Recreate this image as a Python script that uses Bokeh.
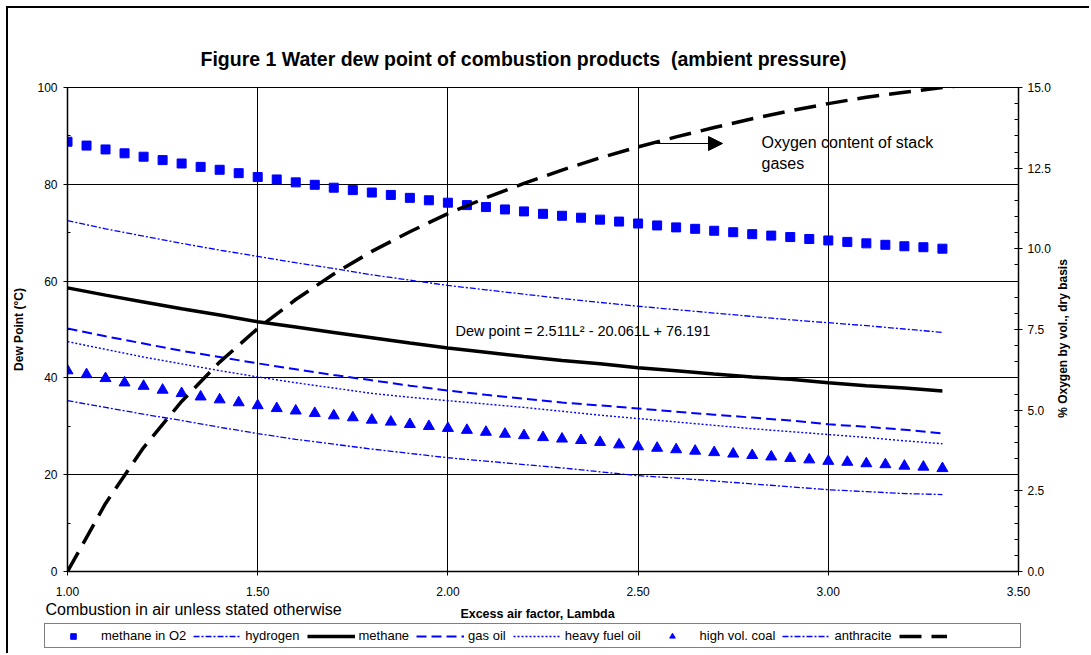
import math
from bokeh.plotting import figure
from bokeh.models import (Range1d, LinearAxis, SingleIntervalTicker,
                          NumeralTickFormatter, Legend, LegendItem, Label, Arrow, NormalHead)
from bokeh.embed import file_html
from bokeh.resources import INLINE

# ---------------- data ----------------
lam_pts = [round(1.0 + 0.05 * i, 2) for i in range(47)]          # 1.00 .. 3.30
lam_lines = [round(1.0 + 0.1 * i, 1) for i in range(24)]         # 1.0 .. 3.3
lam_o2 = [round(1.0 + 0.1 * i, 1) for i in range(25)]            # 1.0 .. 3.4

methane_o2 = [88.8, 88.0, 87.2, 86.4, 85.7, 85.0, 84.3, 83.6, 83.0, 82.3,
              81.5, 81.0, 80.4, 79.9, 79.3, 78.8, 78.3, 77.8, 77.2, 76.7,
              76.2, 75.7, 75.3, 74.8, 74.4, 73.9, 73.5, 73.1, 72.7, 72.3,
              71.9, 71.5, 71.1, 70.8, 70.4, 70.1, 69.7, 69.4, 69.1, 68.7,
              68.4, 68.1, 67.8, 67.5, 67.2, 67.0, 66.7]

high_vol_coal = [41.5, 40.7, 39.9, 39.0, 38.3, 37.5, 36.8, 36.1, 35.5, 34.9,
                 34.3, 33.7, 33.2, 32.7, 32.2, 31.8, 31.3, 30.9, 30.4, 30.0,
                 29.6, 29.2, 28.8, 28.4, 28.1, 27.7, 27.4, 27.1, 26.7, 26.2,
                 25.8, 25.5, 25.2, 24.9, 24.6, 24.3, 24.0, 23.7, 23.4, 23.1,
                 22.8, 22.6, 22.3, 22.1, 21.8, 21.6, 21.3]

hydrogen = [72.5, 70.8, 69.3, 67.8, 66.4, 65.1, 63.8, 62.6, 61.3, 60.2,
            59.1, 58.2, 57.3, 56.4, 55.6, 54.8, 54.1, 53.4, 52.7, 52.0,
            51.4, 50.8, 50.1, 49.4]

methane = [58.6, 57.1, 55.7, 54.3, 53.0, 51.6, 50.5, 49.4, 48.3, 47.2,
           46.2, 45.3, 44.4, 43.6, 42.9, 42.1, 41.5, 40.8, 40.2, 39.7,
           39.0, 38.4, 37.9, 37.3]

gas_oil = [50.2, 48.6, 47.1, 45.6, 44.3, 43.0, 41.8, 40.6, 39.5, 38.4,
           37.4, 36.5, 35.7, 34.9, 34.3, 33.7, 33.0, 32.4, 31.8, 31.2,
           30.4, 29.9, 29.3, 28.5]

heavy_fuel_oil = [47.5, 45.9, 44.3, 42.9, 41.5, 40.2, 39.0, 37.9, 36.8, 36.0,
                  35.3, 34.6, 33.9, 33.1, 32.3, 31.6, 30.9, 30.2, 29.5, 28.9,
                  28.3, 27.7, 27.0, 26.4]

anthracite = [35.3, 33.9, 32.5, 31.2, 29.8, 28.5, 27.3, 26.3, 25.3, 24.4,
              23.5, 22.8, 22.1, 21.4, 20.6, 19.8, 19.3, 18.7, 18.1, 17.5,
              16.9, 16.5, 16.1, 15.9]

oxygen = [0.0, 2.11, 3.84, 5.27, 6.49, 7.53, 8.43, 9.22, 9.92, 10.53,
          11.09, 11.58, 12.03, 12.44, 12.82, 13.16, 13.47, 13.76, 14.03, 14.28,
          14.5, 14.7, 14.85, 15.0, 15.12]

title_text = "Figure 1 Water dew point of combustion products \u00a0(ambient pressure)"
x_label = "Excess air factor, Lambda"
y_label = "Dew Point (°C)"
y2_label = "% Oxygen by vol., dry basis"
note_text = "Combustion in air unless stated otherwise"
eq_text = "Dew point = 2.511L² - 20.061L + 76.191"
o2_text1 = "Oxygen content of stack"
o2_text2 = "gases"
legend_labels = ["methane in O2", "hydrogen", "methane", "gas oil", "heavy fuel oil",
                 "high vol. coal", "anthracite", "\u00a0" * 18]

# ---------------- styles ----------------
FONT = "Liberation Sans"
BLUE = "#0000FF"
X0, Y0 = 8, 8                        # page position of the content
PAGE_W, PAGE_H = 1091, 655
SPLIT = 601                          # page y where main figure ends
FL, FT, FR, FB = 67, 87, 1018, 571   # frame edges in page pixels
W = PAGE_W - X0

sq_style = dict(marker="square", size=9, color=BLUE)
tri_style = dict(marker="triangle", size=11, color=BLUE)
h2_style = dict(line_color=BLUE, line_width=1.3, line_dash="6 2 2 2")
ch4_style = dict(line_color="black", line_width=3.5)
go_style = dict(line_color=BLUE, line_width=2, line_dash="10 5")
hfo_style = dict(line_color=BLUE, line_width=1.4, line_dash="2 2")
an_style = dict(line_color=BLUE, line_width=1.3, line_dash="6 2 2 2")
ox_style = dict(line_color="black", line_width=3.5, line_dash="22 10")

# ---------------- main figure ----------------
p = figure(width=W, height=SPLIT - Y0, output_backend="svg", toolbar_location=None,
           x_range=Range1d(1.0, 3.5), y_range=Range1d(0, 100),
           min_border_left=FL - X0, min_border_top=FT - Y0,
           min_border_right=PAGE_W - FR, min_border_bottom=SPLIT - FB,
           styles={"margin-left": "6px", "margin-top": "6px",
                   "border-left": "2px solid black", "border-top": "2px solid black"})
p.extra_y_ranges = {"o2": Range1d(0, 15)}
p.background_fill_color = "white"
p.border_fill_color = "white"
p.outline_line_color = "black"
p.outline_line_width = 1

p.title.text = title_text
p.title.text_font = FONT
p.title.text_font_size = "19.5px"
p.title.text_font_style = "bold"
p.title.text_color = "black"
p.title.align = "left"
p.title.offset = 200 - FL
p.title.standoff = 35

p.xaxis.ticker = SingleIntervalTicker(interval=0.5, num_minor_ticks=0)
p.xaxis.formatter = NumeralTickFormatter(format="0.00")
p.yaxis.ticker = SingleIntervalTicker(interval=20, num_minor_ticks=2)
p.yaxis.formatter = NumeralTickFormatter(format="0")

for ax in (p.xaxis[0], p.yaxis[0]):
    ax.axis_line_color = "black"
    ax.axis_line_width = 1.5
    ax.major_tick_line_color = "black"
    ax.minor_tick_line_color = "black"
    ax.major_tick_in = 0
    ax.major_tick_out = 4
    ax.major_label_text_font = FONT
    ax.major_label_text_font_size = "12px"
    ax.major_label_text_color = "black"
    ax.axis_label_text_font = FONT
    ax.axis_label_text_font_size = "12px"
    ax.axis_label_text_font_style = "bold"
    ax.axis_label_text_color = "black"

p.xaxis.minor_tick_line_color = None
p.xaxis.major_label_standoff = 11
p.yaxis.minor_tick_in = 3
p.yaxis.minor_tick_out = 0
p.yaxis.major_label_standoff = 6
p.yaxis.axis_label = y_label
p.yaxis.axis_label_standoff = 8

# right axis: ticks and tick labels
ax2 = LinearAxis(y_range_name="o2", ticker=SingleIntervalTicker(interval=2.5, num_minor_ticks=5),
                 formatter=NumeralTickFormatter(format="0.0"))
ax2.axis_line_color = "black"
ax2.axis_line_width = 1.5
ax2.major_tick_line_color = "black"
ax2.minor_tick_line_color = "black"
ax2.major_tick_in = 4
ax2.major_tick_out = 4
ax2.minor_tick_in = 4
ax2.minor_tick_out = 0
ax2.major_label_standoff = 5
ax2.major_label_text_font = FONT
ax2.major_label_text_font_size = "12px"
ax2.major_label_text_color = "black"
p.add_layout(ax2, "right")

p.xgrid.ticker = SingleIntervalTicker(interval=0.5)
p.ygrid.ticker = SingleIntervalTicker(interval=20)
for g in (p.xgrid[0], p.ygrid[0]):
    g.grid_line_color = "black"
    g.grid_line_width = 1
    g.grid_line_alpha = 1.0

p.scatter(lam_pts, methane_o2, **sq_style)
p.line(lam_lines, hydrogen, **h2_style)
p.line(lam_lines, methane, **ch4_style)
p.line(lam_lines, gas_oil, **go_style)
p.line(lam_lines, heavy_fuel_oil, **hfo_style)
p.scatter(lam_pts, high_vol_coal, **tri_style)
p.line(lam_lines, anthracite, **an_style)
p.line(lam_o2, oxygen, y_range_name="o2", **ox_style)


def frame_label(txt, x, y, size, bold=False):
    p.add_layout(Label(x=x - FL, y=FB - y, x_units="screen", y_units="screen", text=txt,
                       text_font=FONT, text_font_size=size, text_align="left",
                       text_baseline="middle", text_color="black",
                       text_font_style="bold" if bold else "normal"))


frame_label(eq_text, 455, 330, "14.5px")
frame_label(o2_text1, 761, 142, "16px")
frame_label(o2_text2, 761, 163, "16px")
p.add_layout(Arrow(x_start=653 - FL, y_start=FB - 143, x_end=722 - FL, y_end=FB - 143,
                   start_units="screen", end_units="screen", line_color="black", line_width=1,
                   end=NormalHead(size=14, fill_color="black", line_color="black")))

# ---------------- bottom strip (notes + legend) ----------------
pb = figure(width=W, height=PAGE_H - SPLIT, output_backend="svg", toolbar_location=None,
            x_range=Range1d(X0, PAGE_W), y_range=Range1d(PAGE_H, SPLIT),
            x_axis_location=None, y_axis_location=None, min_border=0,
            styles={"margin-left": "6px", "border-left": "2px solid black"})
pb.outline_line_color = None
pb.background_fill_color = "white"
pb.border_fill_color = "white"
pb.xgrid.visible = False
pb.ygrid.visible = False

pb.add_layout(Label(x=45, y=611, text=note_text, text_font=FONT, text_font_size="16px",
                    text_baseline="middle", text_color="black"))
pb.add_layout(Label(x=537, y=615.5, text=x_label, text_font=FONT, text_font_size="12.5px",
                    text_font_style="bold", text_align="center", text_baseline="middle",
                    text_color="black"))

rb = [
    pb.scatter([0], [0], **sq_style),
    pb.line([0, 1], [0, 0], **h2_style),
    pb.line([0, 1], [0, 0], **ch4_style),
    pb.line([0, 1], [0, 0], **go_style),
    pb.line([0, 1], [0, 0], **hfo_style),
    pb.scatter([0], [0], **tri_style),
    pb.line([0, 1], [0, 0], **an_style),
    pb.line([0, 1], [0, 0], **ox_style),
]
legend = Legend(items=[LegendItem(label=l, renderers=[r]) for l, r in zip(legend_labels, rb)],
                orientation="horizontal", location=(44 - X0, PAGE_H - 648 - 2))
legend.glyph_width = 48
legend.glyph_height = 14
legend.label_standoff = 4
legend.spacing = 7
legend.padding = 4
legend.margin = 0
legend.label_text_font = FONT
legend.label_text_font_size = "13px"
legend.label_text_color = "black"
legend.border_line_color = "black"
legend.border_line_width = 1
legend.background_fill_color = "white"
legend.background_fill_alpha = 1.0
pb.add_layout(legend)

# ---------------- right-axis title (separate small canvas, reads bottom-to-top) -------
RL, RT, RW, RH = 1050, 180, 26, 320
pr = figure(width=RW, height=RH, output_backend="svg", toolbar_location=None,
            x_range=Range1d(RL, RL + RW), y_range=Range1d(RT + RH, RT),
            x_axis_location=None, y_axis_location=None, min_border=0,
            styles={"position": "absolute", "left": f"{RL}px", "top": f"{RT}px"})
pr.outline_line_color = None
pr.background_fill_color = None
pr.border_fill_color = None
pr.xgrid.visible = False
pr.ygrid.visible = False
pr.add_layout(Label(x=1062.5, y=338, text=y2_label, angle=math.pi / 2, text_font=FONT,
                    text_font_size="12px", text_font_style="bold", text_align="center",
                    text_baseline="middle", text_color="black"))

open("out.html", "w").write(file_html([p, pb, pr], INLINE))
